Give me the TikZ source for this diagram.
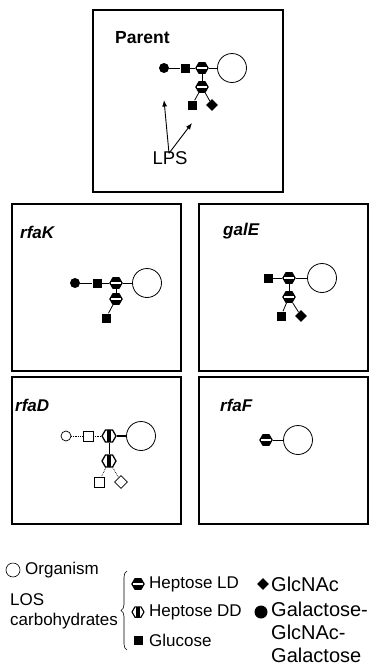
\documentclass[tikz,border=0pt]{standalone}
\usepackage{fontspec}
\setmainfont{Liberation Sans}
\usetikzlibrary{shapes.geometric,decorations.pathreplacing,arrows.meta}

% sugar symbols
\tikzset{
  panel/.style={draw, line width=1.1pt},
  title/.style={anchor=west, inner sep=0pt, font=\fontsize{17}{20}\selectfont\bfseries\itshape},
  org/.style={circle, draw, line width=0.8pt, minimum size=29pt, inner sep=0pt},
  gal/.style={circle, fill, minimum size=10pt, inner sep=0pt},
  glc/.style={rectangle, fill, minimum size=9pt, inner sep=0pt},
  nac/.style={diamond, fill, minimum size=12pt, inner sep=0pt},
  galopen/.style={circle, draw, line width=0.7pt, minimum size=10pt, inner sep=0pt},
  glcopen/.style={rectangle, draw, line width=0.7pt, minimum size=10pt, inner sep=0pt},
  nacopen/.style={diamond, draw, line width=0.7pt, minimum size=13pt, inner sep=0pt},
  hepld/.style={regular polygon, regular polygon sides=6, draw, line width=0.9pt, fill,
    minimum size=12.5pt, inner sep=0pt,
    path picture={\fill[white] ([xshift=1.2pt,yshift=-0.8pt]path picture bounding box.west)
      rectangle ([xshift=-1.2pt,yshift=0.8pt]path picture bounding box.east);}},
  hepdd/.style={regular polygon, regular polygon sides=6, draw, line width=1.3pt, fill=white,
    minimum size=14pt, inner sep=0pt,
    path picture={\fill[black] ([xshift=-1.6pt]path picture bounding box.south)
      rectangle ([xshift=1.6pt]path picture bounding box.north);}},
  bond/.style={line width=0.8pt},
  weak/.style={line width=0.7pt, densely dotted},
  pointer/.style={line width=0.9pt, -{Latex[length=6.5pt, width=5pt]}},
  legend/.style={anchor=west, inner sep=0pt, font=\fontsize{17}{20}\selectfont},
  legendbig/.style={anchor=west, inner sep=0pt, align=left, font=\fontsize{20}{23}\selectfont}
}

\begin{document}
\begin{tikzpicture}[x=1pt, y=-1pt]
  \useasboundingbox (0,0) rectangle (371,670);

  % frames
  \draw[panel] (93,10) rectangle (283,192);
  \draw[panel] (12,204) rectangle (181,371);
  \draw[panel] (199,204) rectangle (368,371);
  \draw[panel] (12,377) rectangle (181,524);
  \draw[panel] (199,377) rectangle (368,524);

  \node[title, font=\fontsize{17.5}{20}\selectfont\bfseries] at (115,38) {Parent};
  \node[title] at (20,232) {rfaK};
  \node[title] at (223,231) {galE};
  \node[title] at (15,405) {rfaD};
  \node[title] at (220,405) {rfaF};

  % parent
  \node[org] (porg) at (232,68) {};
  \node[gal] (pgal) at (164,68) {};
  \node[glc] (pglc) at (185,68) {};
  \node[hepld] (phepa) at (202,68) {};
  \node[hepld] (phepb) at (202,87) {};
  \node[glc] (pglcb) at (192,105) {};
  \node[nac] (pnac) at (212,105) {};
  \begin{scope}[bond]
    \draw (pgal) to (pglc);
    \draw (pglc) to (phepa);
    \draw (phepa) to (porg);
    \draw (phepa) to (phepb);
    \draw (phepb) to (pglcb);
    \draw (phepb) to (pnac);
  \end{scope}
  \node[inner sep=0pt, font=\fontsize{18.5}{20}\selectfont] (lps) at (170,158) {LPS};
  \coordinate (lpsa) at (164,100);
  \coordinate (lpsb) at (192,123);
  \draw[pointer] ([xshift=-1pt,yshift=-2pt]lps.north) to (lpsa);
  \draw[pointer] ([xshift=-1pt,yshift=-2pt]lps.north) to (lpsb);

  % rfaK
  \node[org] (korg) at (147,283) {};
  \node[gal] (kgal) at (75,283) {};
  \node[glc] (kglc) at (97,283) {};
  \node[hepld] (khepa) at (116,283) {};
  \node[hepld] (khepb) at (116,299) {};
  \node[glc] (kglcb) at (106,318) {};
  \begin{scope}[bond]
    \draw (kgal) to (kglc);
    \draw (kglc) to (khepa);
    \draw (khepa) to (korg);
    \draw (khepa) to (khepb);
    \draw (khepb) to (kglcb);
  \end{scope}

  % galE
  \node[org] (eorg) at (322,278) {};
  \node[glc] (eglc) at (268,278) {};
  \node[hepld] (ehepa) at (289,278) {};
  \node[hepld] (ehepb) at (289,297) {};
  \node[glc] (eglcb) at (281,316) {};
  \node[nac] (enac) at (301,316) {};
  \begin{scope}[bond]
    \draw (eglc) to (ehepa);
    \draw (ehepa) to (eorg);
    \draw (ehepa) to (ehepb);
    \draw (ehepb) to (eglcb);
    \draw (ehepb) to (enac);
  \end{scope}

  % rfaD
  \node[org] (dorg) at (141,436) {};
  \node[galopen] (dgal) at (66,436) {};
  \node[glcopen] (dglc) at (88,436) {};
  \node[hepdd] (dhepa) at (109,436) {};
  \node[hepdd] (dhepb) at (109,461) {};
  \node[glcopen] (dglcb) at (99,482) {};
  \node[nacopen] (dnac) at (121,482) {};
  \draw[weak] (dgal) to (dglc);
  \draw[weak] (dglc) to (dhepa);
  \draw[bond, line width=1.1pt] (dhepa) to (dorg);
  \draw[bond] (dhepa) to (dhepb);
  \draw[weak] (dhepb) to (dglcb);
  \draw[weak] (dhepb) to (dnac);

  % rfaF
  \node[org] (forg) at (298,440) {};
  \node[hepld] (fhep) at (266,440) {};
  \draw[bond] (fhep) to (forg);

  % key
  \node[circle, draw, line width=0.6pt, minimum size=14pt, inner sep=0pt] (korgsym) at (13,570) {};
  \node[legend] (korgtxt) at (25,570) {Organism};

  \node[legend, align=left] (klos) at (10,611) {LOS\\carbohydrates};
  \draw[line width=0.6pt, decorate, decoration={brace, amplitude=6pt}] (127,650) -- (127,571);

  \node[hepld] (kld) at (138,584) {};
  \node[legend] at (149,584) {Heptose LD};
  \node[hepdd, minimum size=12pt, line width=1.1pt] (kdd) at (138,612) {};
  \node[legend] at (149,612) {Heptose DD};
  \node[glc] (kglcsym) at (138,640) {};
  \node[legend] at (149,640) {Glucose};

  \node[nac] (knac) at (263,584) {};
  \node[legendbig] at (271,584) {GlcNAc};
  \node[gal, minimum size=13pt] (kgalsym) at (261,612) {};
  \node[legendbig, anchor=north west] at (271,602) {Galactose-\\GlcNAc-\\Galactose};
\end{tikzpicture}
\end{document}
